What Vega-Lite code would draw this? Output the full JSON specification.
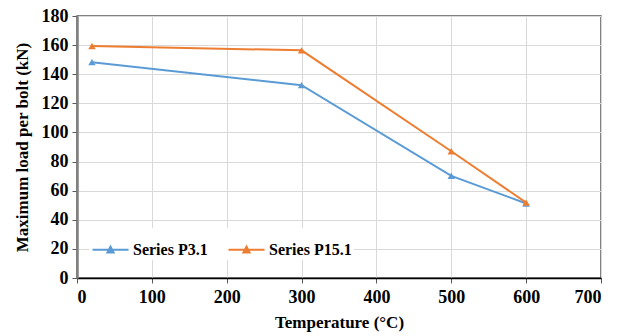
{
  "$schema": "https://vega.github.io/schema/vega-lite/v6.json",
  "width": 524,
  "height": 262,
  "autosize": {"type": "none"},
  "padding": {"left": 77, "top": 16, "right": 26, "bottom": 58},
  "background": "white",
  "config": {
    "font": "Liberation Serif, Times New Roman, serif",
    "view": {"stroke": "#595959", "strokeWidth": 1.5},
    "axis": {
      "labelFont": "Liberation Serif, Times New Roman, serif",
      "labelFontWeight": "bold",
      "labelFontSize": 18,
      "labelColor": "black",
      "titleFont": "Liberation Serif, Times New Roman, serif",
      "titleFontWeight": "bold",
      "titleFontSize": 17,
      "titleColor": "black",
      "gridColor": "#d9d9d9",
      "gridWidth": 1
    },
    "legend": {
      "labelFont": "Liberation Serif, Times New Roman, serif"
    }
  },
  "data": {
    "values": [
      {"series": "Series P3.1", "temp": 20, "load": 148.3},
      {"series": "Series P3.1", "temp": 300, "load": 132.5},
      {"series": "Series P3.1", "temp": 500, "load": 70.2},
      {"series": "Series P3.1", "temp": 600, "load": 51.2},
      {"series": "Series P15.1", "temp": 20, "load": 159.4},
      {"series": "Series P15.1", "temp": 300, "load": 156.4},
      {"series": "Series P15.1", "temp": 500, "load": 87.1},
      {"series": "Series P15.1", "temp": 600, "load": 51.8}
    ]
  },
  "encoding": {
    "x": {
      "field": "temp",
      "type": "quantitative",
      "scale": {"domain": [0, 700], "nice": false, "zero": true},
      "axis": {
        "title": "Temperature (°C)",
        "values": [0, 100, 200, 300, 400, 500, 600, 700],
        "domainColor": "black",
        "domainWidth": 1.5,
        "tickColor": "#595959",
        "tickSize": 5,
        "labelPadding": 5,
        "titlePadding": 8
      }
    },
    "y": {
      "field": "load",
      "type": "quantitative",
      "scale": {"domain": [0, 180], "nice": false},
      "axis": {
        "title": "Maximum load per bolt (kN)",
        "values": [0, 20, 40, 60, 80, 100, 120, 140, 160, 180],
        "domainColor": "#808080",
        "domainWidth": 2.5,
        "tickColor": "#595959",
        "tickSize": 5,
        "labelPadding": 4,
        "titlePadding": 10
      }
    },
    "color": {
      "field": "series",
      "type": "nominal",
      "sort": ["Series P3.1", "Series P15.1"],
      "scale": {"domain": ["Series P3.1", "Series P15.1"], "range": ["#5b9bd5", "#ed7d31"]},
      "legend": {
        "title": null,
        "orient": "none",
        "direction": "horizontal",
        "legendX": 12,
        "legendY": 212,
        "fillColor": "white",
        "padding": 2,
        "labelFontWeight": "bold",
        "labelFontSize": 16,
        "labelColor": "black",
        "labelOffset": 3,
        "columnPadding": 16,
        "symbolType": "M-1,0H1M-0.17,0.15L0,-0.17L0.17,0.15Z",
        "symbolSize": 1300,
        "symbolStrokeWidth": 2
      }
    }
  },
  "layer": [
    {"mark": {"type": "line", "strokeWidth": 2}},
    {"mark": {"type": "point", "shape": "triangle-up", "filled": true, "size": 55, "opacity": 1}}
  ]
}
